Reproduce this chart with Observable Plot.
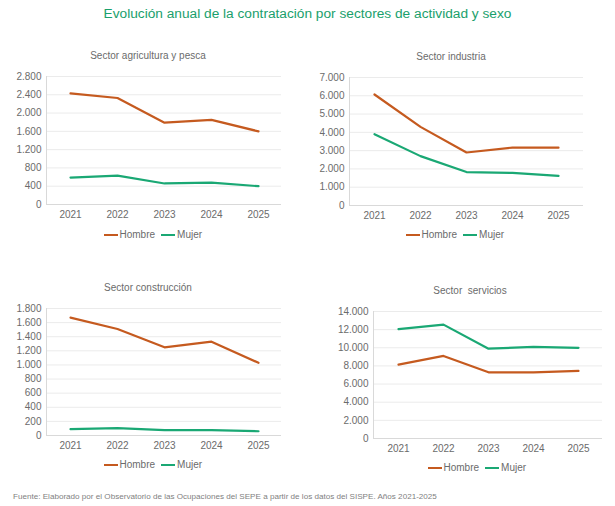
<!DOCTYPE html>
<html>
<head>
<meta charset="utf-8">
<script src="https://cdn.jsdelivr.net/npm/d3@7"></script>
<script src="https://cdn.jsdelivr.net/npm/@observablehq/plot@0.6"></script>
<style>
  html, body { margin: 0; padding: 0; background: #fff; }
  #root { position: relative; width: 615px; height: 506px; overflow: hidden; font-family: "Liberation Sans", Arial, sans-serif; }
  .abs { position: absolute; }
  .title { left: 0; width: 615px; top: 6px; text-align: center; font-size: 13.7px; color: #1aa06c; }
  .ptitle { font-size: 10px; color: #6b6b6b; text-align: center; white-space: pre; }
  .legend { font-size: 10px; color: #6b6b6b; white-space: nowrap; display: flex; align-items: center; }
  .sw { display: inline-block; width: 14px; height: 2px; margin-right: 2px; }
  .footer { left: 13px; top: 492px; font-size: 8.1px; color: #7f7f7f; white-space: nowrap; }
</style>
</head>
<body>
<div id="root"></div>
<script>
const years = ["2021", "2022", "2023", "2024", "2025"];
const seriesNames = ["Hombre", "Mujer"];
const seriesColors = ["#c55a1f", "#1aa874"];

const agriHombre = [2430, 2330, 1790, 1850, 1600];
const agriMujer  = [590, 630, 460, 480, 400];
const indHombre  = [6070, 4300, 2900, 3170, 3160];
const indMujer   = [3900, 2700, 1830, 1780, 1620];
const consHombre = [1670, 1510, 1250, 1330, 1030];
const consMujer  = [90, 105, 75, 75, 60];
const servHombre = [8150, 9100, 7300, 7300, 7450];
const servMujer  = [12050, 12550, 9900, 10100, 10000];

const agriTicks = [0, 400, 800, 1200, 1600, 2000, 2400, 2800];
const indTicks  = [0, 1000, 2000, 3000, 4000, 5000, 6000, 7000];
const consTicks = [0, 200, 400, 600, 800, 1000, 1200, 1400, 1600, 1800];
const servTicks = [0, 2000, 4000, 6000, 8000, 10000, 12000, 14000];

const panelTitles = ["Sector agricultura y pesca", "Sector industria", "Sector construcción", "Sector  servicios"];
const mainTitle = "Evolución anual de la contratación por sectores de actividad y sexo";
const footerText = "Fuente: Elaborado por el Observatorio de las Ocupaciones del SEPE a partir de los datos del SISPE. Años 2021-2025";

const esLocale = d3.formatLocale({decimal: ",", thousands: ".", grouping: [3], currency: ["", " €"]});
const fmt = esLocale.format(",d");

const root = document.getElementById("root");
function addDiv(cls, text, style) {
  const d = document.createElement("div");
  d.className = "abs " + cls;
  d.textContent = text;
  Object.assign(d.style, style || {});
  root.appendChild(d);
  return d;
}

addDiv("title", mainTitle);
addDiv("footer", footerText);

function makeRows(h, m) {
  const rows = [];
  years.forEach((y, i) => {
    rows.push({year: y, value: h[i], sex: seriesNames[0]});
    rows.push({year: y, value: m[i], sex: seriesNames[1]});
  });
  return rows;
}

const panels = [
  {h: agriHombre, m: agriMujer, ticks: agriTicks, left: 0, top: 66, width: 290, height: 160, ml: 46, mr: 9, titleX: 148, titleY: 50, legX: 153, legY: 229},
  {h: indHombre, m: indMujer, ticks: indTicks, left: 305, top: 67, width: 290, height: 160, ml: 44, mr: 12, titleX: 451, titleY: 51, legX: 455, legY: 229},
  {h: consHombre, m: consMujer, ticks: consTicks, left: 0, top: 298, width: 290, height: 159, ml: 46, mr: 9, titleX: 148, titleY: 282, legX: 153, legY: 459},
  {h: servHombre, m: servMujer, ticks: servTicks, left: 305, top: 301, width: 305, height: 159, ml: 68, mr: 8, titleX: 470, titleY: 285, legX: 477, legY: 462}
];

panels.forEach((p, k) => {
  const rows = makeRows(p.h, p.m);
  const yMax = p.ticks[p.ticks.length - 1];
  const leftLine = (index, scales, values, dims) => {
    const g = d3.create("svg:line")
      .attr("x1", dims.marginLeft + 0.5).attr("x2", dims.marginLeft + 0.5)
      .attr("y1", dims.marginTop).attr("y2", dims.height - dims.marginBottom)
      .attr("stroke", "#d9d9d9");
    return g.node();
  };
  const chart = Plot.plot({
    width: p.width,
    height: p.height,
    marginLeft: p.ml,
    marginRight: p.mr,
    marginTop: 10,
    marginBottom: 22,
    style: {fontFamily: "Liberation Sans, Arial, sans-serif", fontSize: "10px", color: "#6b6b6b", background: "transparent"},
    x: {type: "point", domain: years, padding: 0.5, label: null},
    y: {domain: [0, yMax], label: null},
    color: {domain: seriesNames, range: seriesColors},
    marks: [
      Plot.gridY(p.ticks, {stroke: "#ebebeb", strokeOpacity: 1}),
      Plot.ruleY([0], {stroke: "#d9d9d9"}),
      leftLine,
      Plot.axisY(p.ticks, {tickSize: 0, tickPadding: 5, tickFormat: fmt, fill: "#6b6b6b", fontSize: 10}),
      Plot.axisX({tickSize: 0, tickPadding: 6, fill: "#6b6b6b", fontSize: 10}),
      Plot.line(rows, {x: "year", y: "value", z: "sex", stroke: "sex", strokeWidth: 2.2})
    ]
  });
  chart.style.position = "absolute";
  chart.style.left = p.left + "px";
  chart.style.top = p.top + "px";
  root.appendChild(chart);

  const t = addDiv("ptitle", panelTitles[k]);
  t.style.left = (p.titleX - 100) + "px";
  t.style.width = "200px";
  t.style.top = p.titleY + "px";

  const leg = document.createElement("div");
  leg.className = "abs legend";
  seriesNames.forEach((n, i) => {
    const item = document.createElement("span");
    item.style.display = "inline-flex";
    item.style.alignItems = "center";
    item.style.marginRight = i === 0 ? "6px" : "0";
    const sw = document.createElement("span");
    sw.className = "sw";
    sw.style.background = seriesColors[i];
    item.appendChild(sw);
    item.appendChild(document.createTextNode(n));
    leg.appendChild(item);
  });
  root.appendChild(leg);
  leg.style.top = p.legY + "px";
  leg.style.left = (p.legX - leg.offsetWidth / 2) + "px";
});
</script>
</body>
</html>
